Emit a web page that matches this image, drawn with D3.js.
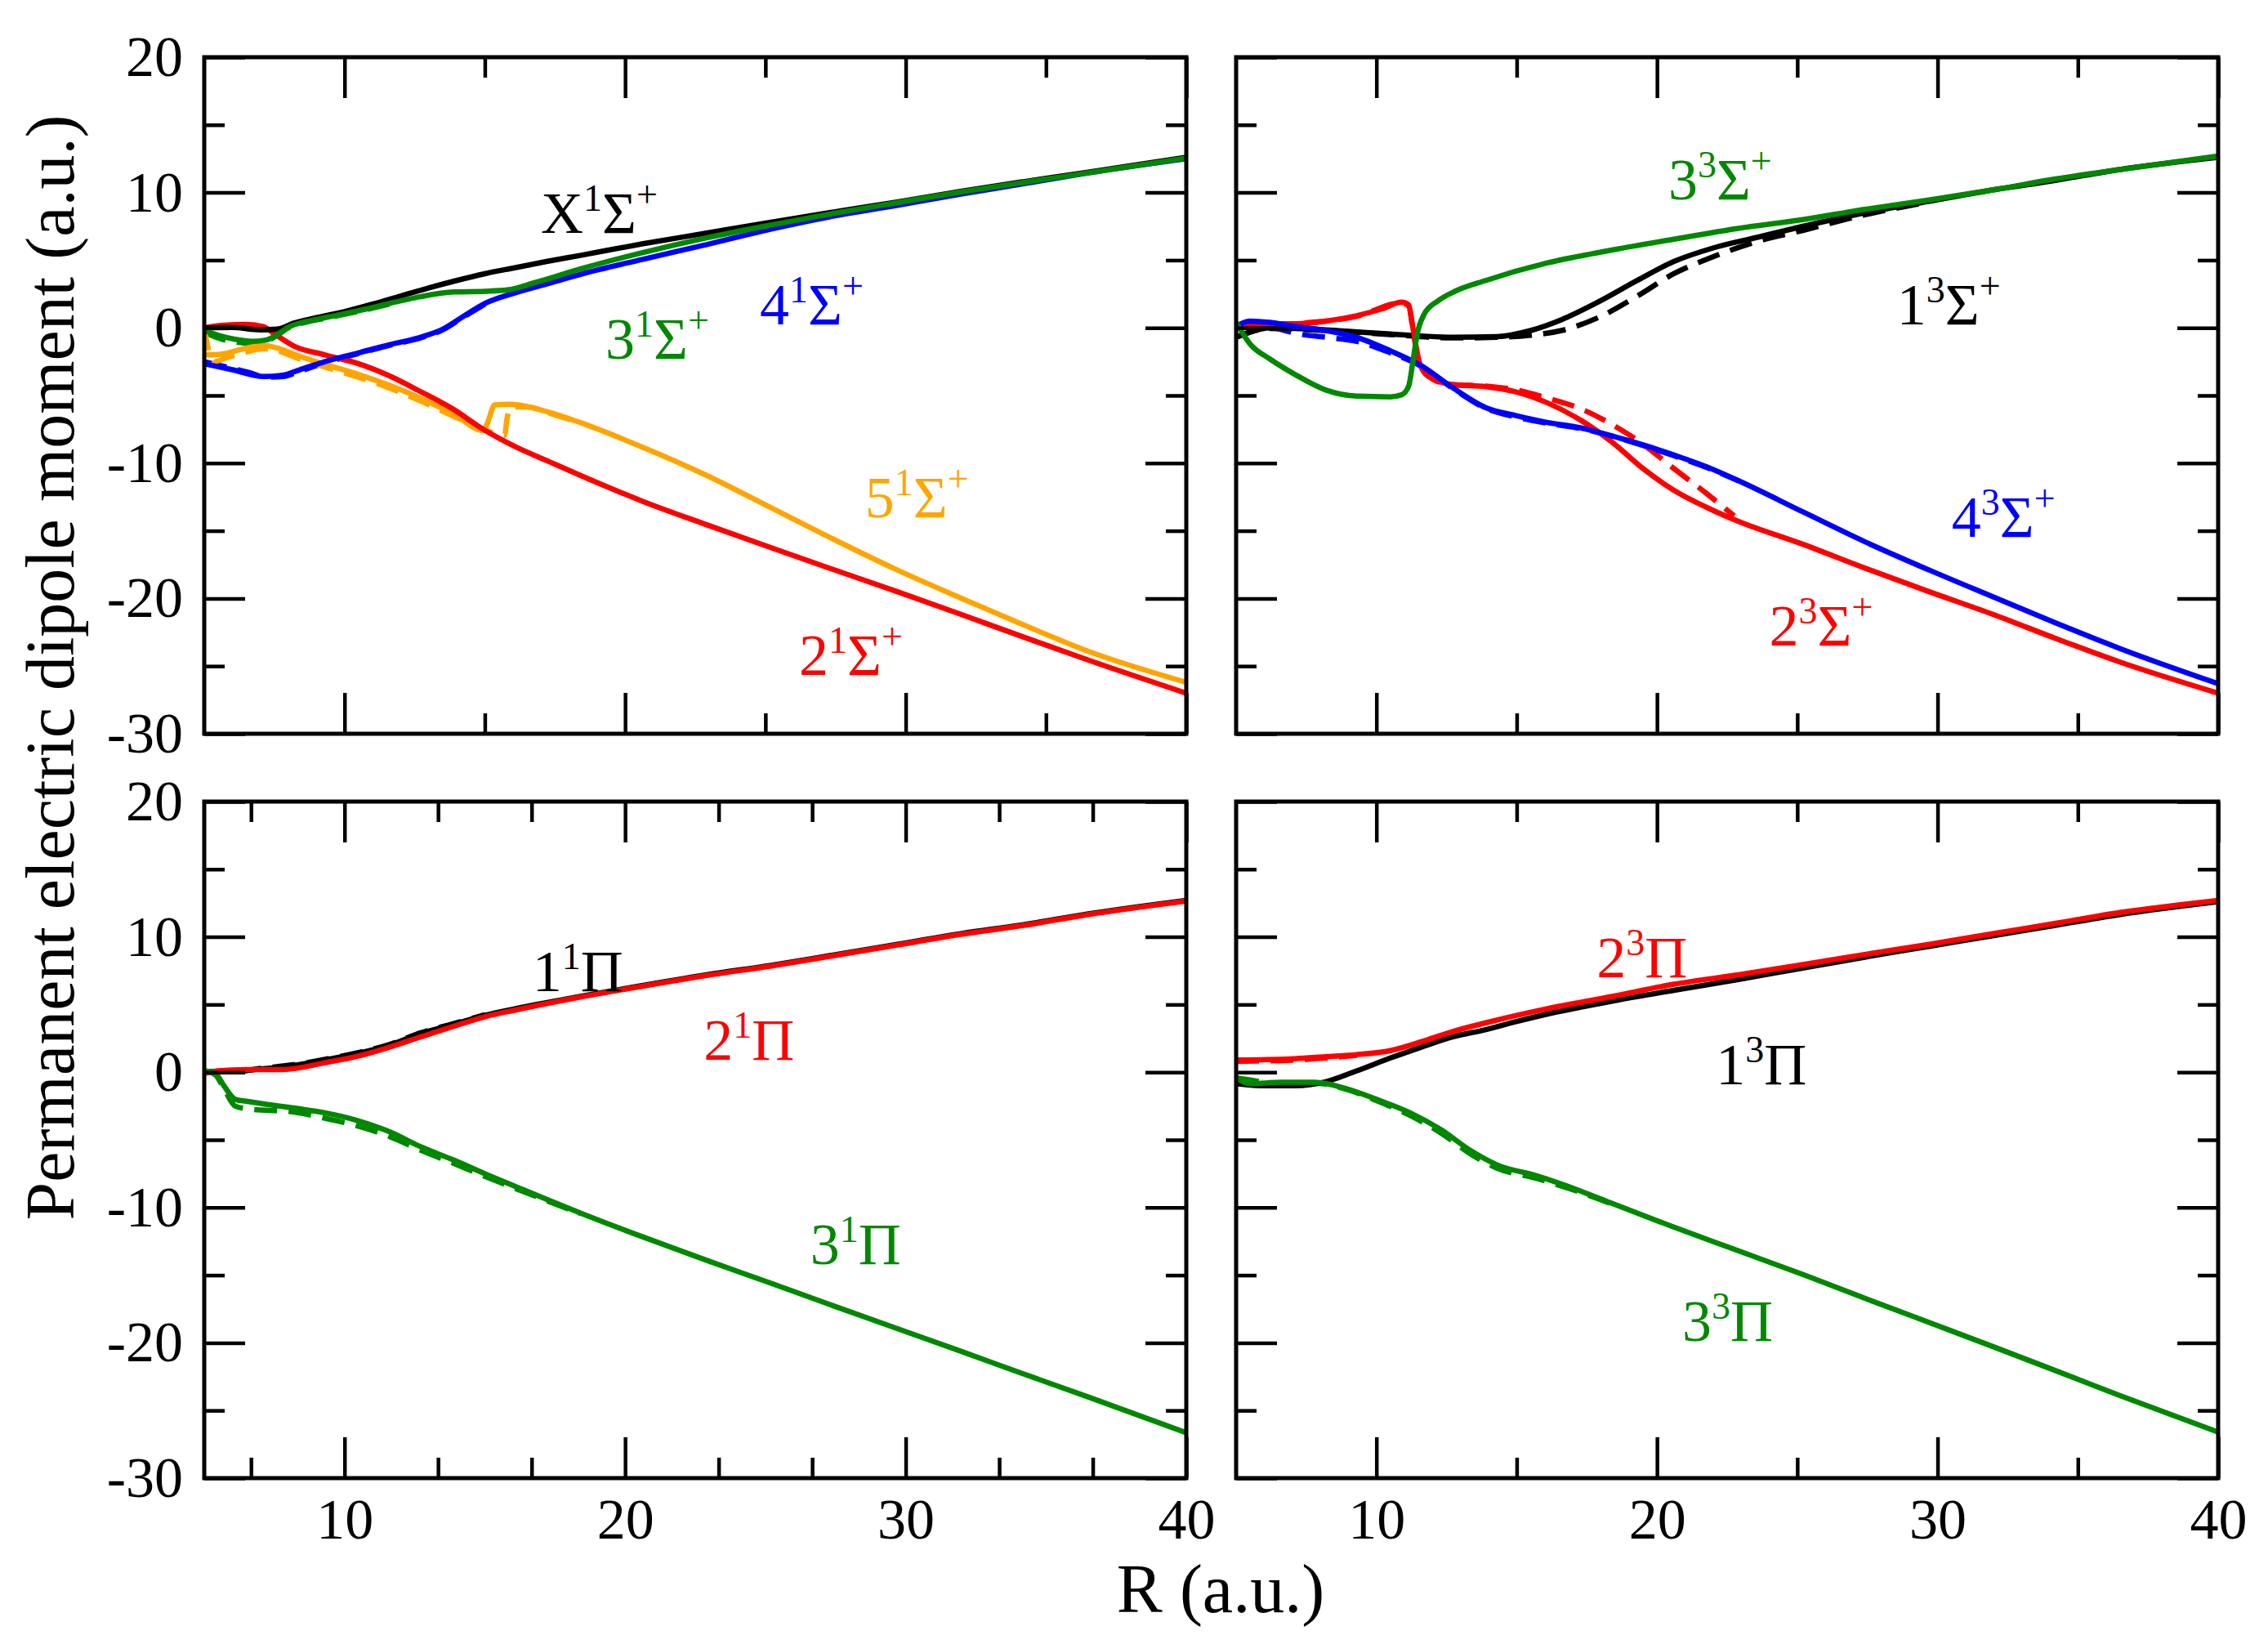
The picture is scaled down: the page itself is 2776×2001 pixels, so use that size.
<!DOCTYPE html>
<html>
<head>
<meta charset="utf-8">
<script src="https://cdn.jsdelivr.net/npm/d3@7"></script>
<style>
  body { margin: 0; background: #fff; }
  svg { display: block; }
  text { font-family: "Liberation Serif", "Tinos", "Times New Roman", "DejaVu Serif", serif; }
</style>
</head>
<body>
<div id="chart"></div>
<script>
// ============================================================
//  Permanent electric dipole moments vs R, four panels
// ============================================================

// --- Axis ticks ---
const yMajor = [-30, -20, -10, 0, 10, 20];
const yMinor = [-25, -15, -5, 5, 15];
const xMajor = [10, 20, 30, 40];
const xMinorHalf = [15, 25, 35];
const xMinorThird = [6.667, 13.333, 16.667, 23.333, 26.667, 33.333, 36.667];

// --- Top left: singlet Sigma+ states ([R, mu]) ---
const sig1X = [[5,0],[6,0.02],[7,-0.15],[7.6,-0.1],[8.2,0.35],[9,0.75],[10,1.2],[11,1.75],[12,2.35],[13,2.95],[14,3.5],[15,4.0],[16.1,4.45],[17.2,4.9],[18.4,5.35],[20.6,6.2],[22.9,7.0],[25.2,7.8],[27.4,8.55],[29.7,9.3],[32,10.1],[34.2,10.8],[36.5,11.5],[40,12.6]];
const sig12 = [[5,0],[5.7,0.2],[6.5,0.25],[7.1,0.1],[7.5,-0.45],[8.2,-1.35],[9.3,-2.0],[10.5,-2.65],[11.6,-3.55],[12.7,-4.7],[13.9,-6.05],[14.9,-7.45],[16.1,-8.8],[17.3,-9.9],[18.4,-10.9],[20.6,-12.8],[22.9,-14.55],[25.2,-16.25],[27.4,-17.85],[29.7,-19.5],[32,-21.2],[34.2,-22.85],[36.5,-24.55],[40,-27.0]];
const sig13 = [[5,-0.2],[5.5,-0.55],[6.1,-0.85],[6.7,-1.0],[7.2,-0.9],[7.6,-0.5],[8,0.05],[8.6,0.45],[9.3,0.75],[10,1.05],[10.8,1.4],[11.6,1.8],[12.7,2.3],[13.9,2.65],[15,2.7],[15.8,2.8],[16.8,3.35],[18.4,4.35],[20.6,5.55],[22.9,6.65],[25.2,7.6],[27.4,8.45],[29.7,9.25],[32,10.05],[34.2,10.75],[36.5,11.45],[40,12.55]];
const sig13d = [[5,-0.3],[5.5,-0.75],[6.1,-1.05],[6.7,-1.15],[7.2,-1.0],[7.6,-0.55],[8,0.0],[8.6,0.4],[9.3,0.7],[10,1.0],[10.8,1.35],[11.6,1.75]];
const sig14 = [[5,-2.65],[6,-3.1],[7.1,-3.6],[7.8,-3.5],[8.4,-3.1],[9.3,-2.5],[10.5,-1.85],[11.6,-1.25],[12.7,-0.7],[13.5,-0.1],[14.2,0.8],[15,1.8],[16.1,2.6],[17.3,3.3],[18.4,3.95],[20.6,5.05],[22.9,6.15],[25.2,7.3],[27.4,8.25],[29.7,9.05],[32,9.9],[34.2,10.65],[36.5,11.45],[40,12.5]];
const sig14d = [[5,-2.5],[5.8,-2.9],[6.6,-3.3],[7.2,-3.65],[7.8,-3.6],[8.4,-3.2],[9.3,-2.6],[10.5,-1.9],[11.6,-1.3],[12.7,-0.75],[13.5,-0.15],[14.2,0.75],[15,1.75]];
const sig15 = [[5,-2.0],[5.6,-1.95],[6.3,-1.6],[7.1,-1.3],[7.7,-1.55],[8.2,-1.95],[9.3,-2.7],[10.5,-3.45],[11.6,-4.25],[12.7,-5.2],[13.9,-6.4],[14.95,-7.6],[15.1,-7.0],[15.35,-5.7],[15.9,-5.65],[17.3,-6.25],[18.4,-7.0],[20.6,-8.8],[22.9,-10.9],[25.2,-13.3],[27.4,-15.6],[29.7,-17.9],[32,-20.0],[34.2,-21.95],[36.5,-23.9],[40,-26.2]];
const sig15d = [[5,0],[5.15,-1.6],[5.35,-2.5],[5.8,-2.2],[6.4,-1.85],[7.1,-1.55],[7.7,-1.75],[8.2,-2.15],[9.3,-2.9],[10.5,-3.65],[11.6,-4.45],[12.7,-5.4],[13.9,-6.55],[14.95,-7.5],[15.7,-7.95],[15.8,-6.6],[15.95,-5.85],[16.5,-5.85],[17.3,-6.3],[18.4,-7.05]];

// --- Top right: triplet Sigma+ states ---
const sig31 = [[5,-0.7],[5.5,-0.3],[6.2,0.0],[7.1,-0.05],[8.2,-0.15],[9.3,-0.3],[10.5,-0.45],[11.6,-0.6],[12.7,-0.7],[14.3,-0.65],[15.5,-0.2],[16.6,0.6],[17.9,1.9],[19.3,3.5],[20.6,4.9],[22,5.9],[23.6,6.7],[25.2,7.5],[27.4,8.5],[29.7,9.35],[32,10.2],[34.2,10.9],[36.5,11.7],[40,12.6]];
const sig31d = [[5,-0.7],[6.2,-0.05],[8.2,-0.2],[10.5,-0.5],[12.7,-0.75],[14.3,-0.7],[15.5,-0.55],[16.6,-0.2],[17.9,0.75],[19.3,2.35],[20.6,4.0],[22,5.25],[23.6,6.4],[25.2,7.2],[27.4,8.35],[29.7,9.3]];
const sig32 = [[5,0],[5.5,0.3],[7.1,0.3],[8.2,0.5],[9.3,0.9],[10.2,1.4],[10.9,1.9],[11.15,1.7],[11.3,0.0],[11.5,-2.3],[11.7,-3.3],[12.1,-3.85],[12.7,-4.2],[13.9,-4.35],[15,-4.75],[16.1,-5.55],[17.3,-6.85],[18.4,-8.45],[19.5,-10.4],[20.6,-12.0],[21.8,-13.3],[22.9,-14.3],[25.2,-16.0],[27.4,-17.75],[29.7,-19.5],[32,-21.2],[34.2,-22.95],[36.5,-24.7],[40,-27.0]];
const sig32d = [[5,0.05],[7.1,0.3],[9.3,0.85],[10.9,1.85],[11.15,1.6],[11.3,-0.1],[11.5,-2.4],[12.1,-3.9],[12.7,-4.2],[13.9,-4.3],[15,-4.6],[16.1,-5.2],[17.3,-6.0],[18.4,-7.15],[19.5,-8.6],[20.6,-10.4],[21.8,-12.3],[22.75,-13.9]];
const sig33 = [[5,0.4],[5.5,-1.2],[6.2,-2.3],[7.1,-3.45],[8.2,-4.6],[9.3,-5.05],[10.5,-5.1],[10.9,-4.95],[11.15,-4.3],[11.3,-2.5],[11.45,-0.5],[11.7,1.0],[12.2,2.0],[12.8,2.7],[13.9,3.5],[16.1,4.8],[18.4,5.75],[20.6,6.55],[22.9,7.35],[25.2,8.0],[27.4,8.75],[29.7,9.45],[32,10.2],[34.2,11.0],[36.5,11.7],[40,12.7]];
const sig34 = [[5,0.1],[5.5,0.5],[6.2,0.4],[7.1,0.1],[8.2,-0.2],[9.3,-0.7],[10.5,-1.7],[11.6,-2.8],[12.7,-4.4],[13.9,-5.9],[15,-6.5],[16.1,-7.0],[17.3,-7.4],[18.4,-8.0],[19.5,-8.65],[20.6,-9.4],[21.8,-10.3],[22.9,-11.3],[25.2,-13.6],[27.4,-15.8],[29.7,-17.9],[32,-19.9],[34.2,-21.8],[36.5,-23.7],[40,-26.3]];
const sig34d = [[5,0.1],[5.5,0.45],[6.2,0.1],[7.1,-0.4],[8.2,-0.7],[9.3,-1.0],[10.5,-1.85],[11.6,-2.85],[12.7,-4.45],[13.9,-5.95],[15,-6.6],[16.1,-7.05],[17.3,-7.45],[18.4,-8.0],[19.5,-8.7],[20.6,-9.45],[21.8,-10.35],[22.9,-11.3]];

// --- Bottom left: singlet Pi states ---
const pi11 = [[5,0],[6,0.05],[7.1,0.25],[8.2,0.5],[9.3,0.9],[10.5,1.4],[11.6,2.0],[12.7,2.85],[13.9,3.55],[15,4.2],[16.1,4.7],[18.4,5.6],[20.6,6.4],[22.9,7.2],[25.2,7.9],[27.4,8.65],[29.7,9.45],[32,10.25],[34.2,10.9],[36.5,11.7],[40,12.7]];
const pi11d = [[5,0.05],[6,0.05],[7.1,0.3],[8.2,0.55],[9.3,0.95],[10.5,1.45],[11.6,2.05],[12.7,2.9],[13.9,3.6],[15,4.25]];
const pi12 = [[5,-0.1],[5.5,0.1],[6.5,0.2],[7.8,0.2],[9.3,0.7],[10.5,1.2],[11.6,1.85],[12.7,2.6],[13.9,3.4],[15,4.1],[16.1,4.6],[18.4,5.55],[20.6,6.35],[22.9,7.15],[25.2,7.85],[27.4,8.6],[29.7,9.4],[32,10.2],[34.2,10.85],[36.5,11.65],[40,12.65]];
const pi13 = [[5,0.1],[5.4,-0.1],[5.7,-1.0],[6.1,-2.0],[6.5,-2.15],[8.2,-2.65],[9.3,-3.0],[10.5,-3.6],[11.6,-4.4],[12.7,-5.5],[13.9,-6.5],[15,-7.5],[16.1,-8.45],[18.4,-10.4],[20.6,-12.15],[22.9,-13.9],[25.2,-15.6],[27.4,-17.25],[29.7,-18.95],[32,-20.65],[34.2,-22.3],[36.5,-24.0],[40,-26.65]];
const pi13d = [[5,0.1],[5.4,-0.2],[5.7,-1.2],[6.1,-2.5],[6.5,-2.7],[8.2,-2.95],[9.3,-3.4],[10.5,-4.0],[11.6,-4.75],[12.7,-5.75],[13.9,-6.75],[15,-7.7],[16.1,-8.6],[18.4,-10.45]];

// --- Bottom right: triplet Pi states ---
const pi31 = [[5,-0.85],[6,-1.0],[7.1,-1.0],[8.2,-0.7],[9.3,0.1],[10.5,1.05],[11.6,1.85],[12.7,2.6],[13.9,3.15],[15,3.75],[16.1,4.3],[18.4,5.25],[20.6,6.05],[22.9,6.85],[25.2,7.7],[27.4,8.5],[29.7,9.3],[32,10.1],[34.2,10.85],[36.5,11.65],[40,12.6]];
const pi32 = [[5,0.9],[7.1,1.0],[8.2,1.15],[9.3,1.3],[10.5,1.6],[11.6,2.25],[12.7,3.0],[13.9,3.65],[15,4.2],[16.1,4.7],[18.4,5.6],[20.6,6.5],[22.9,7.2],[25.2,7.95],[27.4,8.7],[29.7,9.45],[32,10.25],[34.2,11.0],[36.5,11.8],[40,12.7]];
const pi32d = [[5,0.8],[7.1,0.9],[8.2,1.05],[9.3,1.25]];
const pi33 = [[5,-0.4],[5.5,-0.85],[6.6,-0.75],[7.8,-0.75],[8.9,-1.2],[10,-2.0],[11.2,-3.0],[12.3,-4.25],[13.4,-5.85],[14.3,-6.85],[15.7,-7.65],[17.3,-8.8],[18.4,-9.7],[20.6,-11.45],[22.9,-13.2],[25.2,-14.95],[27.4,-16.7],[29.7,-18.5],[32,-20.3],[34.2,-22.05],[36.5,-23.9],[40,-26.6]];
const pi33d = [[5,-0.4],[6.6,-0.8],[7.8,-0.8],[8.9,-1.25],[10,-2.1],[11.2,-3.2],[12.3,-4.5],[13.4,-6.1],[14.3,-7.1],[15.7,-7.85],[17.3,-8.9],[18.4,-9.75]];

// --- State labels: [prefix, multiplicity, symbol, sign, R, mu] ---
const labelsTL = [["X","1","Σ","+",17.0,7.0],["3","1","Σ","+",19.3,-2.3],["4","1","Σ","+",24.8,0.25],["5","1","Σ","+",28.55,-14.0],["2","1","Σ","+",26.2,-25.65]];
const labelsTR = [["3","3","Σ","+",20.4,9.5],["1","3","Σ","+",28.55,0.25],["4","3","Σ","+",30.5,-15.45],["2","3","Σ","+",24.0,-23.5]];
const labelsBL = [["1","1","Π","",16.7,6.0],["2","1","Π","",22.8,0.9],["3","1","Π","",26.6,-14.2]];
const labelsBR = [["2","3","Π","",17.85,7.0],["1","3","Π","",22.1,-0.9],["3","3","Π","",20.9,-19.85]];
const labelColorsTL = ["#000", "#008800", "#0000ff", "#ffa500", "#ff0000"];
const labelColorsTR = ["#008800", "#000", "#0000ff", "#ff0000"];
const labelColorsBL = ["#000", "#ff0000", "#008800"];
const labelColorsBR = ["#ff0000", "#000", "#008800"];

const C = { black: "#000", red: "#ff0000", green: "#008800", blue: "#0000ff", orange: "#ffa500" };
const FONT = '"Liberation Serif", "Tinos", "Times New Roman", "DejaVu Serif", serif';

// --- Layout ---
const W = 2776, H = 2001;
const PW = 1202, PH = 828;
const colX = [250, 1513];
const rowY = [70, 981];

const svg = d3.select('#chart').append('svg')
    .attr('width', W)
    .attr('height', H);

const x = d3.scaleLinear().domain([5, 40]).range([0, PW]);
const y = d3.scaleLinear().domain([-30, 20]).range([PH, 0]);

const line = d3.line()
    .x(d => x(d[0]))
    .y(d => y(d[1]))
    .curve(d3.curveMonotoneX);

const panels = [
    { col: 0, row: 0, minor: xMinorHalf, xLabels: false, yLabels: true,
      dashed: [[sig13d, C.green], [sig14d, C.blue], [sig15d, C.orange]],
      solid: [[sig15, C.orange], [sig12, C.red], [sig14, C.blue], [sig1X, C.black], [sig13, C.green]],
      labels: labelsTL, labelColors: labelColorsTL },
    { col: 1, row: 0, minor: xMinorHalf, xLabels: false, yLabels: false,
      dashed: [[sig31d, C.black], [sig32d, C.red], [sig34d, C.blue]],
      solid: [[sig31, C.black], [sig32, C.red], [sig34, C.blue], [sig33, C.green]],
      labels: labelsTR, labelColors: labelColorsTR },
    { col: 0, row: 1, minor: xMinorThird, xLabels: true, yLabels: true,
      dashed: [[pi11d, C.black], [pi13d, C.green]],
      solid: [[pi11, C.black], [pi12, C.red], [pi13, C.green]],
      labels: labelsBL, labelColors: labelColorsBL },
    { col: 1, row: 1, minor: xMinorHalf, xLabels: true, yLabels: false,
      dashed: [[pi32d, C.red], [pi33d, C.green]],
      solid: [[pi31, C.black], [pi32, C.red], [pi33, C.green]],
      labels: labelsBR, labelColors: labelColorsBR }
];

panels.forEach((p, i) => {
    const g = svg.append('g')
        .attr('transform', `translate(${colX[p.col]},${rowY[p.row]})`);

    g.append('clipPath').attr('id', 'clip' + i)
        .append('rect').attr('width', PW).attr('height', PH);

    // --- Curves: dashed first, solid on top ---
    const curves = g.append('g').attr('clip-path', `url(#clip${i})`);
    p.dashed.forEach(([data, col]) => {
        curves.append('path')
            .attr('d', line(data))
            .attr('fill', 'none')
            .attr('stroke', col)
            .attr('stroke-width', 6.5)
            .attr('stroke-dasharray', '28,14');
    });
    p.solid.forEach(([data, col]) => {
        curves.append('path')
            .attr('d', line(data))
            .attr('fill', 'none')
            .attr('stroke', col)
            .attr('stroke-width', 6.5)
            .attr('stroke-linejoin', 'round');
    });

    // --- Axes (inward ticks on all sides) ---
    const fmt = d => String(d);
    const axes = [
        [d3.axisBottom(x).tickValues(xMajor).tickSize(-50).tickPadding(24).tickFormat(p.xLabels ? fmt : ''), `translate(0,${PH})`],
        [d3.axisBottom(x).tickValues(p.minor).tickSize(-25).tickFormat(''), `translate(0,${PH})`],
        [d3.axisTop(x).tickValues(xMajor).tickSize(-50).tickFormat(''), null],
        [d3.axisTop(x).tickValues(p.minor).tickSize(-25).tickFormat(''), null],
        [d3.axisLeft(y).tickValues(yMajor).tickSize(-50).tickPadding(26).tickFormat(p.yLabels ? fmt : ''), null],
        [d3.axisLeft(y).tickValues(yMinor).tickSize(-25).tickFormat(''), null],
        [d3.axisRight(y).tickValues(yMajor).tickSize(-50).tickFormat(''), `translate(${PW},0)`],
        [d3.axisRight(y).tickValues(yMinor).tickSize(-25).tickFormat(''), `translate(${PW},0)`]
    ];
    axes.forEach(([ax, tr]) => {
        const a = g.append('g').call(ax).attr('font-family', FONT);
        if (tr) a.attr('transform', tr);
        a.select('.domain').remove();
        a.selectAll('line').attr('stroke', '#000').attr('stroke-width', 4.5);
        a.selectAll('text')
            .style('font-family', FONT)
            .attr('font-size', 70)
            .attr('fill', '#000');
    });

    // --- Frame ---
    g.append('rect')
        .attr('width', PW).attr('height', PH)
        .attr('fill', 'none')
        .attr('stroke', '#000')
        .attr('stroke-width', 5);

    // --- State labels ---
    p.labels.forEach((d, j) => {
        const t = g.append('text')
            .attr('x', x(d[4]))
            .attr('y', y(d[5]))
            .attr('fill', p.labelColors[j])
            .style('font-family', FONT)
            .attr('font-size', 72);
        t.append('tspan').text(d[0]);
        t.append('tspan').attr('font-size', 46).attr('dy', -27).text(d[1]);
        t.append('tspan').attr('dy', 27).text(d[2]);
        if (d[3]) t.append('tspan').attr('font-size', 46).attr('dy', -32).text(d[3]);
    });
});

// --- Axis titles ---
svg.append('text')
    .attr('x', 1494)
    .attr('y', 1973)
    .attr('text-anchor', 'middle')
    .style('font-family', FONT)
    .attr('font-size', 84)
    .text('R (a.u.)');

svg.append('text')
    .attr('transform', 'translate(90,817) rotate(-90)')
    .attr('text-anchor', 'middle')
    .style('font-family', FONT)
    .attr('font-size', 84)
    .text('Permanent electric dipole moment (a.u.)');
</script>
</body>
</html>
